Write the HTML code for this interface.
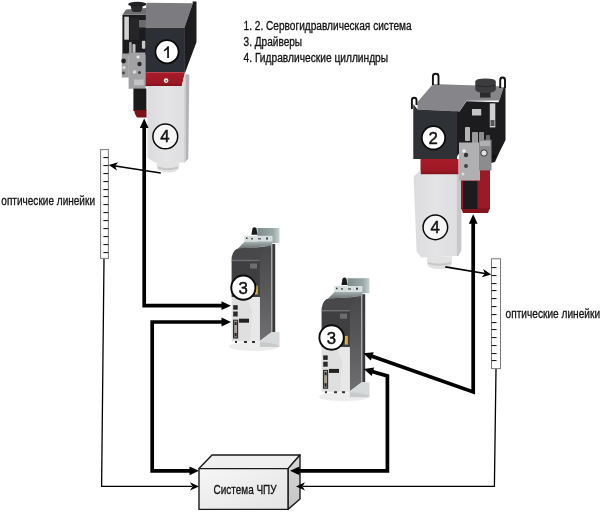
<!DOCTYPE html>
<html><head><meta charset="utf-8">
<style>
html,body{margin:0;padding:0;background:#fff;width:600px;height:513px;overflow:hidden}
svg{display:block;will-change:transform}
text{font-family:"Liberation Sans",sans-serif;fill:#111;stroke:#111;stroke-width:0.3px}
</style></head><body>
<svg width="600" height="513" viewBox="0 0 600 513">
<defs>
<linearGradient id="whiteBlk" x1="0" y1="0" x2="1" y2="0">
<stop offset="0" stop-color="#dcdcde"/><stop offset="0.5" stop-color="#e4e4e6"/><stop offset="1" stop-color="#dedee0"/>
</linearGradient>
<linearGradient id="redBand" x1="0" y1="0" x2="0" y2="1">
<stop offset="0" stop-color="#a81c28"/><stop offset="0.8" stop-color="#9a1824"/><stop offset="1" stop-color="#7a1018"/>
</linearGradient>
<linearGradient id="boxFront" x1="0" y1="0" x2="1" y2="1">
<stop offset="0" stop-color="#f6f6f6"/><stop offset="1" stop-color="#e4e4e4"/>
</linearGradient>
<linearGradient id="brk" x1="0" y1="0" x2="1" y2="0">
<stop offset="0" stop-color="#7e8c8c"/><stop offset="0.7" stop-color="#9aa8a8"/><stop offset="1" stop-color="#c8d2d2"/>
</linearGradient>
<linearGradient id="drvR" x1="0" y1="0" x2="0" y2="1">
<stop offset="0" stop-color="#48484b"/><stop offset="0.45" stop-color="#58585b"/><stop offset="1" stop-color="#707073"/>
</linearGradient>
<linearGradient id="boxSide" x1="0" y1="0" x2="0" y2="1"><stop offset="0" stop-color="#d8d8d8"/><stop offset="1" stop-color="#c4c4c4"/></linearGradient>
<linearGradient id="brkSh" x1="0" y1="0" x2="0" y2="1"><stop offset="0" stop-color="#a4b0b0"/><stop offset="1" stop-color="#6a7070"/></linearGradient>
</defs>
<rect width="600" height="513" fill="#fff"/>

<!-- ===== Photo 1 ===== -->
<g id="p1">
<!-- manifold black -->
<polygon points="122.4,14.8 146,14.8 146,55 122.4,55" fill="#1c1c1e"/>
<!-- manifold top gray -->
<polygon points="122.4,14.8 126,9.5 146,8 146,14.8" fill="#6e6e71"/>
<polygon points="139,20 146,20 146,27.5 139,27.5" fill="#6a6a6d"/>
<rect x="124.3" y="16.7" width="4.6" height="23" fill="#d0d0d2"/>
<rect x="130" y="18" width="9" height="22" fill="#262628"/>
<!-- knob -->
<path d="M130.7,5 H142.8 Q142.5,10 140.5,12 H133 Q131,10 130.7,5 Z" fill="#2a2a2c"/>
<ellipse cx="137.3" cy="4.2" rx="9.2" ry="2.4" fill="#202022"/>
<!-- valves -->
<rect x="141.9" y="40.7" width="3.6" height="8" rx="1" fill="#c8c8c8"/>
<rect x="129" y="42" width="2.8" height="11" rx="1" fill="#9a9a9a"/>
<rect x="132.5" y="44" width="3" height="9" rx="1" fill="#c0c0c0"/>
<!-- metal block -->
<rect x="128.6" y="52.5" width="17" height="36.2" fill="#a2a2a4"/>
<rect x="121.8" y="53.5" width="7" height="24" fill="#a0a0a2"/>
<circle cx="123.6" cy="61" r="2.4" fill="#202020"/>
<circle cx="124" cy="67.5" r="1.6" fill="#dcdcdc"/>
<circle cx="123.5" cy="73" r="1.4" fill="#444"/>
<circle cx="138" cy="57" r="1.5" fill="#eee"/>
<circle cx="139.5" cy="64" r="2.2" fill="#2a2a2a"/>
<circle cx="134.5" cy="72" r="1.8" fill="#d8d8d8"/>
<circle cx="139.5" cy="72.5" r="1.5" fill="#444"/>
<rect x="134" y="79.6" width="9.7" height="5.6" fill="#c4c4c6"/>
<!-- black cylinder -->
<rect x="133.4" y="88.5" width="13" height="22.5" fill="#1a1a1a"/>
<polygon points="134,110 146.5,110 146.5,117.5 137,117.5 135,114" fill="#7a1219"/>

<!-- box top face -->
<polygon points="146.5,2.8 192.8,3.2 184.4,27.8 145.5,27.8 146,8" fill="#7c7c80"/>
<!-- right face -->
<polygon points="184.4,27.8 192.8,3.2 192.5,1.5 196.5,1.5 196.5,42 184.6,74" fill="#1c1c1e"/>
<!-- front face -->
<polygon points="145.5,27.8 184.9,27.8 184.9,72.2 145.5,72.2" fill="#2c2f35"/>
<!-- red band -->
<polygon points="145.5,72.2 184.5,72.2 184.6,74 181.7,86.2 145.5,86.2" fill="url(#redBand)"/>
<circle cx="166.1" cy="80.6" r="2.3" fill="#f0e8e8"/><circle cx="166.3" cy="80.8" r="0.9" fill="#8a5050"/>
<!-- white block -->
<polygon points="147.4,86 184.6,86 184.6,162.5 155,162.5 147.4,158" fill="url(#whiteBlk)"/>
<polygon points="184.6,74.5 189.3,74.5 188.3,158.7 184.6,162.5" fill="#b4b4b6"/>
<polygon points="184.6,74.5 186,74.5 186,161 184.6,162.5" fill="#cdcdcf"/>
<polygon points="181.7,86.2 184.6,74 184.6,86.2" fill="#dcdcde"/>
<!-- nub -->
<path d="M156.7,162 H179.2 V166 Q179.2,172.5 168,172.5 Q156.7,172.5 156.7,166 Z" fill="#e2e2e2"/><path d="M158,166.5 Q168,170 178,166.5 V168.5 Q168,172 158,168.5 Z" fill="#c4c4c4"/>
<!-- circles -->
<circle cx="167" cy="51.75" r="11.6" fill="#fff" stroke="#0a0a0a" stroke-width="1.8"/>
<path d="M163.9,49.9 Q166.3,48.6 167.6,46.3 H168.9 V57.9 H167.2 V49.2 Q165.8,50.6 163.9,51.4 Z" fill="#111"/>
<circle cx="165.3" cy="136.45" r="12.4" fill="#f6f6f6" stroke="#0a0a0a" stroke-width="1.5"/>
<text x="164.8" y="141.9" font-size="16.8" text-anchor="middle" style="fill:#111;stroke-width:0.45px">4</text>
</g>

<!-- ===== Photo 2 ===== -->
<g id="p2">
<!-- manifold black (back) -->
<polygon points="454,111.5 459.5,111.5 466.5,101.3 498.5,102.3 503.4,87.2 505.5,87 505.5,140 499.5,152 495,162 479,166 460,152 454,161" fill="#1c1c1e"/>
<!-- top face -->
<polygon points="417.5,109.5 417.5,102 433,84.1 499,86.2 503.6,87.7 499.4,100.4 466.5,100.8 459.5,111.5" fill="#86868a"/>
<!-- handles -->
<path d="M432.9,85 V76.3 Q432.9,73.8 435.7,73.8 Q438.5,73.8 438.5,76.3 V85" fill="none" stroke="#111" stroke-width="1.9"/>
<path d="M411.9,109 V100.2 Q411.9,97.8 414.2,97.8 Q416.5,97.8 416.5,100.2 V105" fill="none" stroke="#111" stroke-width="1.9"/>
<path d="M500.2,88 V80 Q500.2,77.5 502.6,77.5 Q505,77.5 505,80 V88" fill="none" stroke="#111" stroke-width="1.9"/>
<!-- front face -->
<polygon points="413.3,104 417.5,109.5 459.5,111.5 457,112.5 457,159 413.3,159" fill="#2e3136"/>
<rect x="472" y="109" width="9.2" height="6.5" fill="#c4c4c6"/>
<rect x="489.8" y="103.4" width="5.5" height="24" fill="#d0d0d2"/>
<rect x="490.5" y="120" width="4" height="6" fill="#555"/>
<!-- cap -->
<path d="M480,92 H490.5 V97.6 H480 Z" fill="#2a2a2c"/>
<path d="M475.3,81.5 Q475.3,78.5 485.5,78.5 Q495.8,78.5 495.8,81.5 V90 Q494,93 485.5,93 Q477,93 475.3,90 Z" fill="#3c3c3e"/>
<path d="M475.8,85.5 Q485.5,88 495.3,85.5" fill="none" stroke="#262628" stroke-width="1"/>
<!-- valves -->
<rect x="465" y="127" width="5" height="14" rx="1" fill="#b4b4b4"/>
<rect x="472" y="132" width="6" height="13" rx="1" fill="#9a9a9a"/>
<rect x="479" y="132" width="5" height="15" rx="1" fill="#8c8c8c"/>
<rect x="486" y="135" width="4" height="13" rx="1" fill="#6a6a6a"/>
<!-- red band -->
<polygon points="420.5,159 458.5,159 458.5,174.6 420.5,174.6" fill="url(#redBand)"/>
<!-- white block -->
<polygon points="413.6,176.6 419.5,170.7 420.5,170.7 420.5,174.6 456.5,174.6 456.5,256 421.4,257.5 416.6,251.6" fill="url(#whiteBlk)"/>
<polygon points="456.5,174.6 458.5,174.6 461.4,170.7 461.4,250 458.5,256 456.5,256" fill="#c8c8ca"/>
<!-- nub -->
<path d="M427,256.5 H452 V263 Q452,269 439.5,269 Q427,269 427,263 Z" fill="#e2e2e2"/>
<path d="M428,262 Q439.5,265.5 451,262 V264 Q439.5,267.5 428,264 Z" fill="#c8c8c8"/>
<!-- red cylinder -->
<rect x="461" y="168" width="29" height="41" fill="#9a1a26"/>
<polygon points="461,208 490,208 488,213 463,213" fill="#86141e"/>
<rect x="463" y="181" width="14.5" height="28" fill="#1c1c1e"/>
<!-- metal block -->
<rect x="459" y="142.5" width="21" height="38" fill="#b0b0b2"/>
<circle cx="464" cy="151" r="1.8" fill="#eee"/>
<circle cx="466" cy="155" r="2.2" fill="#333"/>
<circle cx="466" cy="166" r="2" fill="#444"/>
<circle cx="463" cy="174" r="1.5" fill="#ddd"/>
<rect x="479" y="139.7" width="12.5" height="30.7" fill="#8c8c8e"/><rect x="480" y="141" width="10" height="5" fill="#b0b0b2"/>
<circle cx="484" cy="153" r="3.2" fill="#e0e0e0" stroke="#333" stroke-width="1"/>
<circle cx="494" cy="157" r="2.2" fill="#111"/>
<!-- circles -->
<circle cx="433.5" cy="137.8" r="11.7" fill="#fff" stroke="#0a0a0a" stroke-width="1.8"/>
<text x="433.2" y="144.2" font-size="16.8" text-anchor="middle" style="fill:#111;stroke-width:0.45px">2</text>
<circle cx="435.35" cy="227.35" r="12.3" fill="#f6f6f6" stroke="#0a0a0a" stroke-width="1.5"/>
<text x="435.2" y="232.8" font-size="16.8" text-anchor="middle" style="fill:#111;stroke-width:0.45px">4</text>
</g>

<!-- ===== Driver 1 ===== -->
<g id="d1">
<polygon points="257.5,228 279.5,228 279.5,243 257.5,243" fill="url(#brk)"/>
<polygon points="244.4,235.8 272.5,235.8 272.5,241.8 244.4,241.8" fill="#d6dede"/>
<rect x="246" y="237.5" width="1.5" height="1.5" fill="#333"/>
<rect x="251" y="238" width="2" height="1.5" fill="#555"/>
<rect x="258" y="238" width="3" height="1.5" fill="#666"/>
<rect x="266" y="237.5" width="2" height="2" fill="#444"/>
<path d="M251.4,234.8 H257.5 L256.5,228.5 Q254.5,226 252.5,228.5 Z" fill="#1a1a1a"/>
<polygon points="244.4,241.8 272.5,241.8 272,246 238,248.5" fill="url(#brkSh)"/>
<path d="M259,261 Q261,250 271.8,245.5 V332 L259,341.5 Z" fill="url(#drvR)"/>
<path d="M231.6,262 V258 Q233,249.5 238.5,248.3 L264,246.8 Q269,246 272,245.5 Q262,250 259.5,261 L259.5,262 Z" fill="#48484b"/>
<rect x="231.6" y="261.5" width="28.2" height="35.5" fill="#3f3f42"/>
<rect x="232" y="259.8" width="27.5" height="1.3" fill="#707073"/>
<rect x="250" y="263.5" width="7" height="5" fill="#6e6e70"/>
<rect x="254.8" y="285.7" width="3" height="8.7" fill="#d8b040"/>
<rect x="271" y="244" width="1.3" height="90" fill="#a4a8a8"/><rect x="272.3" y="244" width="2.9" height="88" fill="#3a3a3c"/>
<rect x="231.6" y="297" width="28.2" height="44.5" fill="#dfdfe0"/>
<polygon points="246,297 259.8,297 259.8,341.5 250,341.5 252,310" fill="#e8e8e9"/>
<rect x="233.2" y="305.2" width="4.5" height="4.5" fill="#262626"/><rect x="233.2" y="311.5" width="4.5" height="5" fill="#2a2a2a"/>
<rect x="233.6" y="320.2" width="4" height="17.8" fill="#a8a298" stroke="#2a2a2a" stroke-width="1.1"/>
<rect x="234.6" y="322" width="2" height="3" fill="#222"/><rect x="234.6" y="333" width="2" height="3.5" fill="#222"/>
<rect x="239" y="318.7" width="10" height="4" fill="#222"/>
<polygon points="259.8,341.5 271.5,332 279.5,332 279.5,347 259.8,347" fill="#d6dada"/>
<ellipse cx="254" cy="346.5" rx="25" ry="4.5" fill="#000" opacity="0.07"/><rect x="235" y="341" width="2" height="2" fill="#333"/><rect x="244" y="341" width="3" height="2" fill="#333"/><rect x="252" y="341" width="3" height="2" fill="#333"/>
<circle cx="243.35" cy="287.65" r="12.1" fill="#fff" stroke="#0a0a0a" stroke-width="1.9"/>
<text x="243.1" y="293.6" font-size="16.8" text-anchor="middle" style="fill:#111;stroke-width:0.45px">3</text>
</g>

<!-- ===== Driver 2 ===== -->
<g id="d2" transform="translate(90,50.2)">
<polygon points="257.5,228 279.5,228 279.5,243 257.5,243" fill="url(#brk)"/>
<polygon points="244.4,235.8 272.5,235.8 272.5,241.8 244.4,241.8" fill="#d6dede"/>
<rect x="246" y="237.5" width="1.5" height="1.5" fill="#333"/>
<rect x="251" y="238" width="2" height="1.5" fill="#555"/>
<rect x="258" y="238" width="3" height="1.5" fill="#666"/>
<rect x="266" y="237.5" width="2" height="2" fill="#444"/>
<path d="M251.4,234.8 H257.5 L256.5,228.5 Q254.5,226 252.5,228.5 Z" fill="#1a1a1a"/>
<polygon points="244.4,241.8 272.5,241.8 272,246 238,248.5" fill="url(#brkSh)"/>
<path d="M259,261 Q261,250 271.8,245.5 V332 L259,341.5 Z" fill="url(#drvR)"/>
<path d="M231.6,262 V258 Q233,249.5 238.5,248.3 L264,246.8 Q269,246 272,245.5 Q262,250 259.5,261 L259.5,262 Z" fill="#48484b"/>
<rect x="231.6" y="261.5" width="28.2" height="35.5" fill="#3f3f42"/>
<rect x="232" y="259.8" width="27.5" height="1.3" fill="#707073"/>
<rect x="250" y="263.5" width="7" height="5" fill="#6e6e70"/>
<rect x="254.8" y="285.7" width="3" height="8.7" fill="#d8b040"/>
<rect x="271" y="244" width="1.3" height="90" fill="#a4a8a8"/><rect x="272.3" y="244" width="2.9" height="88" fill="#3a3a3c"/>
<rect x="231.6" y="297" width="28.2" height="44.5" fill="#dfdfe0"/>
<polygon points="246,297 259.8,297 259.8,341.5 250,341.5 252,310" fill="#e8e8e9"/>
<rect x="233.2" y="305.2" width="4.5" height="4.5" fill="#262626"/><rect x="233.2" y="311.5" width="4.5" height="5" fill="#2a2a2a"/>
<rect x="233.6" y="320.2" width="4" height="17.8" fill="#a8a298" stroke="#2a2a2a" stroke-width="1.1"/>
<rect x="234.6" y="322" width="2" height="3" fill="#222"/><rect x="234.6" y="333" width="2" height="3.5" fill="#222"/>
<rect x="239" y="318.7" width="10" height="4" fill="#222"/>
<polygon points="259.8,341.5 271.5,332 279.5,332 279.5,347 259.8,347" fill="#d6dada"/>
<ellipse cx="254" cy="346.5" rx="25" ry="4.5" fill="#000" opacity="0.07"/><rect x="235" y="341" width="2" height="2" fill="#333"/><rect x="244" y="341" width="3" height="2" fill="#333"/><rect x="252" y="341" width="3" height="2" fill="#333"/>
</g>
<circle cx="331.6" cy="337.5" r="12.2" fill="#fff" stroke="#0a0a0a" stroke-width="1.9"/>
<text x="331.4" y="343.6" font-size="16.8" text-anchor="middle" style="fill:#111;stroke-width:0.45px">3</text>

<!-- ===== Rulers ===== -->
<rect x="100.6" y="149.6" width="7.8" height="108.8" fill="#fff" stroke="#7a7a7a" stroke-width="1"/>
<g fill="#1a1a1a"><rect x="103.4" y="157" width="5" height="1.1"/><rect x="103.4" y="165" width="5" height="1.1"/><rect x="103.4" y="173" width="5" height="1.1"/><rect x="103.4" y="181" width="5" height="1.1"/><rect x="103.4" y="189" width="5" height="1.1"/><rect x="103.4" y="196" width="5" height="1.1"/><rect x="103.4" y="204" width="5" height="1.1"/><rect x="103.4" y="212" width="5" height="1.1"/><rect x="103.4" y="220" width="5" height="1.1"/><rect x="103.4" y="228" width="5" height="1.1"/><rect x="103.4" y="236" width="5" height="1.1"/><rect x="103.4" y="244" width="5" height="1.1"/><rect x="103.4" y="252" width="5" height="1.1"/></g>
<rect x="491.5" y="258.8" width="9" height="109.8" fill="#fff" stroke="#7a7a7a" stroke-width="1"/>
<g fill="#1a1a1a"><rect x="491.5" y="267" width="5" height="1.1"/><rect x="491.5" y="275" width="5" height="1.1"/><rect x="491.5" y="283" width="5" height="1.1"/><rect x="491.5" y="290" width="5" height="1.1"/><rect x="491.5" y="298" width="5" height="1.1"/><rect x="491.5" y="306" width="5" height="1.1"/><rect x="491.5" y="314" width="5" height="1.1"/><rect x="491.5" y="322" width="5" height="1.1"/><rect x="491.5" y="329" width="5" height="1.1"/><rect x="491.5" y="337" width="5" height="1.1"/><rect x="491.5" y="345" width="5" height="1.1"/><rect x="491.5" y="353" width="5" height="1.1"/><rect x="491.5" y="360" width="5" height="1.1"/></g>

<!-- ===== CNC box ===== -->
<g id="box" stroke="#1a1a1a" stroke-width="1.4" stroke-linejoin="round">
<polygon points="199,468.6 212,455 300,455 288,468.6" fill="#efefef"/>
<polygon points="288,468.6 300,455 300,499 288,509.4" fill="url(#boxSide)"/>
<rect x="199" y="468.6" width="89" height="40.8" fill="url(#boxFront)"/>
</g>
<text x="213.6" y="494" font-size="12.5" textLength="63" lengthAdjust="spacingAndGlyphs">Система ЧПУ</text>

<!-- ===== Lines ===== -->
<g fill="none" stroke="#000" stroke-linejoin="miter">
<path d="M144.2,126 V305.7 H223" stroke-width="3.7"/>
<path d="M223,322 H152.2 V470.8 H191" stroke-width="3.7"/>
<path d="M473.2,222 V392 L372,356.3" stroke-width="3.7"/>
<path d="M372,371.5 L387.4,376 V470.8 H298" stroke-width="3.7"/>
<path d="M104,259 L101.6,486.4 H192" stroke-width="1.3"/>
<path d="M496,368.9 L494.4,486.4 H303" stroke-width="1.3"/>
<path d="M160.8,173 L112,165.5" stroke-width="1.6"/>
<path d="M445.3,266.9 L488,274" stroke-width="1.6"/>
</g>
<g fill="#000">
<polygon points="144.20,118.60 148.60,128.10 139.80,128.10"/>
<polygon points="231.00,305.70 221.50,310.10 221.50,301.30"/>
<polygon points="231.00,322.00 221.50,326.40 221.50,317.60"/>
<polygon points="199.00,470.80 189.50,475.20 189.50,466.40"/>
<polygon points="473.20,214.30 477.60,223.80 468.80,223.80"/>
<polygon points="363.30,353.20 373.72,352.21 370.80,360.51"/>
<polygon points="363.80,369.00 374.16,367.48 371.66,375.92"/>
<polygon points="290.00,470.80 299.50,466.40 299.50,475.20"/>
<path d="M199.00,486.40 L190.00,490.60 L192.50,486.40 L190.00,482.20 Z"/>
<path d="M296.00,486.40 L305.00,482.20 L302.50,486.40 L305.00,490.60 Z"/>
<path d="M108.70,165.00 L118.23,162.21 L115.12,165.99 L116.96,170.52 Z"/>
<path d="M491.30,274.50 L481.74,277.18 L484.89,273.44 L483.11,268.89 Z"/>
</g>

<!-- ===== Texts ===== -->
<text x="243.6" y="29.7" font-size="12" textLength="168" lengthAdjust="spacingAndGlyphs">1. 2. Сервогидравлическая система</text>
<text x="243.6" y="45.8" font-size="12" textLength="58.5" lengthAdjust="spacingAndGlyphs">3. Драйверы</text>
<text x="243.6" y="62" font-size="12" textLength="144.5" lengthAdjust="spacingAndGlyphs">4. Гидравлические циллиндры</text>
<text x="1.3" y="204.7" font-size="12.5" textLength="93.7" lengthAdjust="spacingAndGlyphs">оптические линейки</text>
<text x="505.6" y="317.8" font-size="12.5" textLength="94.5" lengthAdjust="spacingAndGlyphs">оптические линейки</text>
</svg>
</body></html>
